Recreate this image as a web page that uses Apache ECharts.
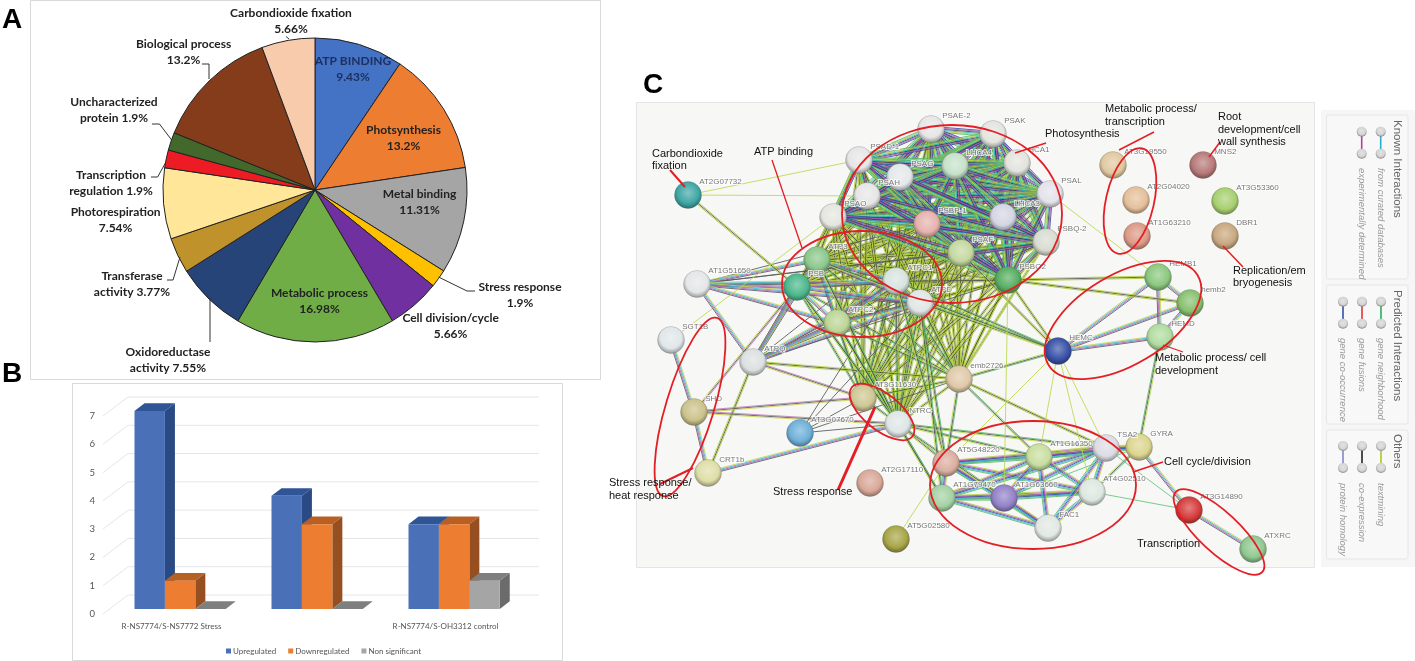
<!DOCTYPE html>
<html><head><meta charset="utf-8">
<style>html,body{margin:0;padding:0;background:#fff}#c{width:1415px;height:661px}</style>
<script src="https://cdn.jsdelivr.net/npm/echarts@6/dist/echarts.min.js"></script>
</head><body><div id="c"></div>
<script>
// ---------- Panel A data
const pieNames=['ATP BINDING','Photsynthesis','Metal binding','Stress response','Cell division/cycle','Metabolic process','Oxidoreductase activity','Transferase activity','Photorespiration','Transcription regulation','Uncharacterized protein','Biological process','Carbondioxide fixation'];
const pieValues=[9.43,13.2,11.31,1.9,5.66,16.98,7.55,3.77,7.54,1.9,1.9,13.2,5.66];
const pieColors=['#4472c4','#ed7d31','#a5a5a5','#ffc000','#7030a0','#70ad47','#264478','#bf922c','#ffe699','#ed1c24','#43682b','#843c1a','#f8cbad'];
const pieLabels=['ATP BINDING\n9.43%','Photsynthesis\n13.2%','Metal binding\n11.31%','Stress response\n1.9%','Cell division/cycle\n5.66%','Metabolic process\n16.98%','Oxidoreductase\nactivity 7.55%','Transferase\nactivity 3.77%','Photorespiration\n7.54%','Transcription\nregulation 1.9%','Uncharacterized\nprotein 1.9%','Biological process\n13.2%','Carbondioxide fixation\n5.66%'];
const pieLabelX=[353,403.5,419.5,520,450.6,319.5,168,132,115.6,111,114,183.6,291];
const pieLabelY=[69.5,137.7,202,295,326,301,360,284,219.7,182.7,110,52,21];
const pieLeaders=[[[286,36.5],[289,39]],[[202,64],[209,64],[209,79]],[[152,124],[159.5,124],[171.6,140]],[[151,177],[157.6,177],[165.4,163]],[[167,280],[173,280],[180,257]],[[210,298],[210,342]],[[475,291],[467,291],[438.5,277]]];
// ---------- Panel B data
const barCategories=['R-NS7774/S-NS7772 Stress','R-NS7774/S-greengold Stress','R-NS7774/S-OH3312 control'];
const upregulated=[7,4,3];
const downregulated=[1,3,3];
const nonSignificant=[0,0,1];
const yTicks=[0,1,2,3,4,5,6,7];
// ---------- Panel C data
const nodeNames=['PSAE-2','PSAK','HCA1','PSAL','LHCA3','PSBQ-2','PSBO2','LHCA4','PSAD-1','PSAG','PSAH','PSAO','PSBP-1','PSAF','ATP3','PSB','ATPC1','ATPD','ATPC2','AT1G51650','AT2G07732','SGT1B','ATPQ','SHD','CRT1b','AT3G07670','AT3G11630','NTRC','emb2726','AT5G48220','AT1G79470','AT2G17110','AT5G02580','AT1G16350','TSA2','GYRA','AT1G63660','AT4G02510','FAC1','AT3G14890','ATXRC','HEMC','HEMB1','hemb2','HEMD','AT3G19550','AT2G04020','AT1G63210','MNS2','AT3G53360','DBR1'];
const nodeX=[931,993,1017,1050,1003,1046,1008,955,859,900,867,833,927,961,817,797,896,920,837,697,688,671,753,694,708,800,863,898,959,946,942,870,896,1039,1106,1139,1004,1092,1048,1189,1253,1058,1158,1190,1160,1113,1136,1137,1203,1225,1225];
const nodeY=[129,134,163,194,217,242,280,166,160,177,196,217,224,253,260,287,281,303,323,284,195,340,362,412,473,433,398,424,379,463,498,483,539,457,448,447,498,492,528,510,549,351,277,303,337,165,200,236,165,201,236];
const nodeColors=['#e6e6e6','#e4e4e0','#e4e4de','#e4e2ea','#d4d6e4','#d8dcd0','#58ae62','#c6e2ca','#e6e6e6','#e4e8ea','#e6e6e6','#e6e6e0','#e6b2ae','#c4d8a0','#8cc88c','#4cb88c','#d8e4e0','#dfe6e4','#bcd696','#e4e6e8','#3fa7a5','#e0e6ea','#dce0e0','#cbc28c','#dedea8','#6fb0d8','#cfc794','#dfe6e6','#dfc9a8','#dbaea0','#a4d2a4','#d9a898','#a8a648','#c8dea0','#dcdce4','#dcd590','#9482c8','#dde8e0','#e2e8e4','#d63c3c','#90c890','#3a52a8','#8cc880','#88c070','#b0dca0','#e0c9a0','#e5c09a','#dc9a88','#b87a7a','#a8d070','#c8a880'];
const photoGroup=['PSAE-2','PSAK','HCA1','PSAL','LHCA3','LHCA4','PSAD-1','PSAG','PSAH','PSAO','PSBQ-2','PSBP-1','PSAF','PSBO2'];
const atpGroup=['ATP3','PSB','ATPC1','ATPD','ATPC2'];
const atpLinked=['AT1G51650','ATPQ'];
const hubGroup=['emb2726','NTRC','AT3G11630'];
const bottomGroup=['AT5G48220','AT1G79470','AT1G63660','AT1G16350','TSA2','AT4G02510','FAC1'];
const hemGroup=['HEMC','HEMB1','hemb2','HEMD'];
const extraEdges=[['AT2G07732','PSAD-1','T'],['AT2G07732','PSAH','T'],['AT2G07732','PSB','D'],['SGT1B','PSAO','T'],['SGT1B','SHD','S'],['SHD','CRT1b','S'],['ATPQ','CRT1b','D'],['AT1G51650','ATPQ','S'],['PSB','SHD','M'],['ATPC2','ATPQ','S'],['PSB','ATPQ','S'],['ATPQ','AT3G11630','M'],['ATPQ','emb2726','D'],['SHD','AT3G11630','M'],['SHD','NTRC','M'],['CRT1b','NTRC','S'],['AT3G07670','NTRC','K'],['AT3G07670','AT3G11630','K'],['AT3G07670','emb2726','K'],['AT3G07670','ATPC1','K'],['AT3G07670','ATPD','K'],['AT3G11630','NTRC','G'],['AT3G11630','emb2726','D'],['NTRC','emb2726','D'],['NTRC','AT5G48220','G'],['NTRC','AT1G79470','G'],['NTRC','AT1G16350','G'],['NTRC','AT1G63660','G'],['NTRC','TSA2','G'],['GYRA','AT3G14890','S'],['AT3G14890','ATXRC','S'],['AT4G02510','AT3G14890','N'],['GYRA','AT4G02510','G'],['TSA2','GYRA','C'],['AT1G16350','GYRA','C'],['GYRA','AT1G63660','N'],['TSA2','AT3G14890','N'],['GYRA','HEMD','G'],['PSBO2','HEMB1','D'],['PSBO2','hemb2','D'],['PSBO2','HEMC','D'],['PSAF','HEMC','D'],['ATPD','HEMC','G'],['ATPC1','HEMC','G'],['ATP3','HEMC','G'],['HEMC','emb2726','G'],['emb2726','TSA2','D'],['HEMC','TSA2','T'],['HEMC','AT4G02510','T'],['HEMC','AT1G16350','T'],['HEMC','AT5G48220','T'],['AT5G02580','AT5G48220','T'],['ATPC1','AT5G48220','G'],['ATPD','AT5G48220','G'],['ATPD','AT1G79470','G'],['ATPC2','AT1G79470','G'],['ATPC2','NTRC','G'],['PSB','NTRC','G'],['ATP3','NTRC','G'],['emb2726','PSBQ-2','T'],['emb2726','AT1G16350','G'],['emb2726','AT5G48220','G'],['PSBO2','AT1G63660','T'],['PSAL','HEMB1','T']];
const edgeKinds={T:['#bcd84e'],N:['#62c27a'],K:['#55585a'],D:['#b4cf3e','#4e5240','#a9c83a'],M:['#c07ac0','#555','#c8d44e'],S:['#c8d44e','#38b8d8','#b060b0','#5a5a66'],G:['#55b96a','#4e5250','#bcd84e'],P:['#3848a8','#b050b0','#404048','#30b8b8','#b4d040','#58b868'],C:['#b4d040','#b050b0','#3848a8','#38b8d8','#58b868']};
const legendGroups=[['Known Interactions',120,[[1361.7,'#b040a0','experimentally determined'],[1380.7,'#25aed0','from curated databases']],131.7,168],['Predicted Interactions',290,[[1343,'#3050a8','gene co-occurrence'],[1362,'#e83030','gene fusions'],[1381,'#20b060','gene neighborhood']],301.7,338],['Others',434,[[1343,'#8088cc','protein homology'],[1362,'#222222','co-expression'],[1381,'#a8c820','textmining']],446,483]];
// ---------- Annotations
const panelLetters=[['A',2,20],['B',2,374],['C',643,85]];
const noteTexts=[['Carbondioxide\nfixation',652,160],['ATP binding',754,152],['Photosynthesis',1045,134],['Metabolic process/\ntranscription',1105,115.5],['Root\ndevelopment/cell\nwall synthesis',1218,129.5],['Replication/em\nbryogenesis',1233,277],['Metabolic process/ cell\ndevelopment',1155,364.5],['Cell cycle/division',1164,462],['Transcription',1137,544],['Stress response',773,492],['Stress response/\nheat response',609,489.5]];
const noteLines=[[670,170,685,187,2],[772,160,802,248,1.3],[1046,143,1015,153,1.5],[1154,132,1119,150,1.5],[1220,142,1209,157,1.5],[1223,246,1243,267,1.5],[1163,345,1183,352,1.2],[1133,472,1163,462,1.5],[875,407,838,490,3],[693,468,660,484,2]];
const noteEllipses=[[952,214,110,89,0],[862,284,80,53,0],[1130,201,54,24,1.345],[1123,320,87,45,0.54],[690,407,93,24,1.277],[882,412,39,18,-0.68],[1033,485,103,64,0],[1219,532,59,20,-0.75]];

const NF='"Liberation Sans",Arial,sans-serif', LF='Lato,"Noto Sans",sans-serif';
const idx=n=>nodeNames.indexOf(n);
// Build the interaction list from the groups
const edges=[];
function clique(a,k){for(let i=0;i<a.length;i++)for(let j=i+1;j<a.length;j++)edges.push([a[i],a[j],k]);}
function cross(a,b,k){a.forEach(p=>b.forEach(q=>edges.push([p,q,k])));}
cross(photoGroup,atpGroup,'D');
cross(hubGroup,photoGroup,'D');
cross(hubGroup,atpGroup,'G');
cross(['PSAF','PSBP-1','PSBO2','PSBQ-2'],atpLinked,'K');
cross(atpLinked,atpGroup,'S');
clique(atpGroup,'S');
clique(photoGroup,'P');
clique(bottomGroup,'C');
clique(hemGroup,'S');
edges.push(...extraEdges);

function lighten(hex,f){const n=parseInt(hex.slice(1),16);const c=[n>>16,(n>>8)&255,n&255].map(v=>Math.round(f>0?v+(255-v)*f:v*(1+f)));return 'rgb('+c.join(',')+')';}
function ball(hex){return new echarts.graphic.RadialGradient(0.5,0.42,0.62,[{offset:0,color:lighten(hex,0.35)},{offset:0.62,color:hex},{offset:0.88,color:lighten(hex,-0.3)},{offset:1,color:lighten(hex,-0.5)}]);}

const g=[];
g.push({type:'rect',z:-5,shape:{x:30.5,y:0.5,width:570,height:379},style:{fill:'#fff',stroke:'#d9d9d9',lineWidth:1}});
g.push({type:'rect',z:-5,shape:{x:72.5,y:383.5,width:490,height:277},style:{fill:'#fff',stroke:'#d9d9d9',lineWidth:1}});
g.push({type:'rect',z:-5,shape:{x:636.5,y:102.5,width:678,height:465},style:{fill:'#f7f7f5',stroke:'#e4e4e4',lineWidth:1}});
g.push({type:'rect',z:-5,shape:{x:1321,y:110,width:94,height:457},style:{fill:'#f6f6f6'}});
[[115,164],[285,139],[430,129]].forEach(b=>g.push({type:'rect',z:-4,shape:{x:1326.5,y:b[0],width:81.5,height:b[1],r:2},style:{fill:'#f8f8f8',stroke:'#e6e6e6',lineWidth:1}}));
legendGroups.forEach(L=>{
  g.push({type:'text',z:30,x:1397,y:L[1],rotation:-Math.PI/2,style:{text:L[0],font:'11.5px '+NF,fill:'#666',textAlign:'left',textVerticalAlign:'middle'}});
  L[2].forEach(col=>{
    g.push({type:'line',z:30,shape:{x1:col[0],y1:L[3],x2:col[0],y2:L[3]+22},style:{stroke:col[1],lineWidth:1.6}});
    [0,22].forEach(d=>g.push({type:'circle',z:30,shape:{cx:col[0],cy:L[3]+d,r:5},style:{fill:ball('#d4d4d4')}}));
    g.push({type:'text',z:30,x:col[0],y:L[4],rotation:-Math.PI/2,style:{text:col[2],font:'italic 9.5px '+NF,fill:'#999',textAlign:'left',textVerticalAlign:'middle'}});
  });
});
pieLeaders.forEach(p=>g.push({type:'polyline',z:30,shape:{points:p},style:{stroke:'#333',lineWidth:1,fill:null}}));
panelLetters.forEach(t=>g.push({type:'text',z:40,x:t[1],y:t[2],style:{text:t[0],font:'bold 28px '+NF,fill:'#000',textVerticalAlign:'middle'}}));
noteEllipses.forEach(e=>g.push({type:'ellipse',z:50,x:e[0],y:e[1],rotation:e[4],shape:{cx:0,cy:0,rx:e[2],ry:e[3]},style:{fill:null,stroke:'#e31e24',lineWidth:1.8}}));
noteLines.forEach(l=>g.push({type:'line',z:50,shape:{x1:l[0],y1:l[1],x2:l[2],y2:l[3]},style:{stroke:'#e31e24',lineWidth:l[4]}}));
noteTexts.forEach(t=>g.push({type:'text',z:51,x:t[1],y:t[2],style:{text:t[0],font:'11px '+NF,lineHeight:12.6,fill:'#111',textVerticalAlign:'middle'}}));

function barSeries(name,vals,s,cols){
  return {type:'custom',name,xAxisIndex:0,yAxisIndex:0,z:3,clip:false,itemStyle:{color:cols[0]},data:vals.map((v,i)=>[i,v]),
    renderItem(p,api){
      const c=api.value(0),v=api.value(1),base=api.coord([c,0]),top=api.coord([c,v]),band=api.size([1,0])[0];
      const w=band*0.222,x=base[0]-band*0.27+s*w,yb=base[1]-5,yt=top[1]-5,dx=10,dy=7.7;
      const kids=[];
      kids.push({type:'polygon',shape:{points:[[x,yt],[x+dx,yt-dy],[x+w+dx,yt-dy],[x+w,yt]]},style:{fill:cols[1]}});
      if(v>0){
        kids.push({type:'polygon',shape:{points:[[x+w,yt],[x+w+dx,yt-dy],[x+w+dx,yb-dy],[x+w,yb]]},style:{fill:cols[2]}});
        kids.push({type:'rect',shape:{x,y:yt,width:w,height:yb-yt},style:{fill:cols[0]}});
      }
      return {type:'group',children:kids};
    }};
}

const option={
  animation:false,backgroundColor:'#fff',graphic:{elements:g},
  grid:[{left:103,top:416,width:411,height:198},{left:0,top:0,width:1415,height:661}],
  xAxis:[
    {gridIndex:0,type:'category',data:barCategories,axisLine:{show:false},axisTick:{show:false},axisLabel:{margin:8,fontSize:8,fontFamily:LF,color:'#555'}},
    {gridIndex:1,type:'value',min:0,max:1415,show:false}],
  yAxis:[
    {gridIndex:0,type:'value',min:0,max:7,interval:1,axisLine:{show:false},axisTick:{show:false},splitLine:{show:false},axisLabel:{margin:8,fontSize:9.5,fontFamily:LF,color:'#555',formatter:v=>yTicks.includes(v)?String(v):''}},
    {gridIndex:1,type:'value',min:0,max:661,inverse:true,show:false}],
  legend:{data:['Upregulated','Downregulated','Non significant'],left:221,top:642,itemWidth:5,itemHeight:5,itemGap:12,icon:'rect',textStyle:{fontSize:8,fontFamily:LF,color:'#555',padding:[0,0,0,-3]}},
  series:[
    {type:'custom',name:'walls',xAxisIndex:0,yAxisIndex:0,z:1,silent:true,clip:false,data:yTicks.map(v=>[0,v]),
      renderItem(p,api){const y=api.coord([0,api.value(1)])[1],x=p.coordSys.x,w=p.coordSys.width;
        return {type:'polyline',shape:{points:[[x,y],[x+25,y-19],[x+25+w,y-19]]},style:{stroke:'#e6e6e6',lineWidth:1,fill:null}};}},
    barSeries('Upregulated',upregulated,0,['#4a70b7','#2f5597','#2a4a85']),
    barSeries('Downregulated',downregulated,1,['#ed7d31','#b85f24','#954f20']),
    barSeries('Non significant',nonSignificant,2,['#a5a5a5','#7f7f7f','#6b6b6b']),
    {type:'pie',center:[315,190],radius:[0,152],startAngle:90,clockwise:true,avoidLabelOverlap:false,z:3,
      itemStyle:{borderColor:'#222',borderWidth:1},
      labelLine:{show:false},
      label:{position:'outside',fontFamily:LF,fontWeight:'bold',fontSize:12,lineHeight:16,color:'#222',align:'center',formatter:p=>pieLabels[p.dataIndex]},
      labelLayout:p=>({x:pieLabelX[p.dataIndex],y:pieLabelY[p.dataIndex],align:'center',verticalAlign:'middle'}),
      data:pieNames.map((n,i)=>({name:n,value:pieValues[i],itemStyle:{color:pieColors[i]},label:i===0?{color:'#1c2f5e'}:undefined}))},
    {type:'custom',name:'interactions',xAxisIndex:1,yAxisIndex:1,z:4,silent:true,clip:false,
      data:edges.map(e=>[nodeX[idx(e[0])],nodeY[idx(e[0])],nodeX[idx(e[1])],nodeY[idx(e[1])]]),
      renderItem(p,api){
        const a=api.coord([api.value(0),api.value(1)]),b=api.coord([api.value(2),api.value(3)]);
        const cols=edgeKinds[edges[p.dataIndex][2]];
        const dx=b[0]-a[0],dy=b[1]-a[1],L=Math.hypot(dx,dy)||1,nx=-dy/L,ny=dx/L;
        return {type:'group',children:cols.map((c,i)=>{const o=(i-(cols.length-1)/2)*1.05;
          return {type:'line',shape:{x1:a[0]+nx*o,y1:a[1]+ny*o,x2:b[0]+nx*o,y2:b[1]+ny*o},style:{stroke:c,lineWidth:1,opacity:0.85}};})};
      }},
    {type:'graph',coordinateSystem:'cartesian2d',xAxisIndex:1,yAxisIndex:1,z:5,silent:true,symbol:'circle',symbolSize:27,
      label:{show:true,position:[25,-3],fontFamily:NF,fontSize:8,color:'#777',formatter:p=>p.name,textBorderColor:'rgba(255,255,255,0.75)',textBorderWidth:2},
      data:nodeNames.map((n,i)=>({name:n,value:[nodeX[i],nodeY[i]],itemStyle:{color:ball(nodeColors[i]),borderColor:'rgba(90,90,90,0.35)',borderWidth:0.6}})),
      links:[]}
  ]
};
const chart=echarts.init(document.getElementById('c'),null,{renderer:'canvas'});
chart.setOption(option);
</script></body></html>
